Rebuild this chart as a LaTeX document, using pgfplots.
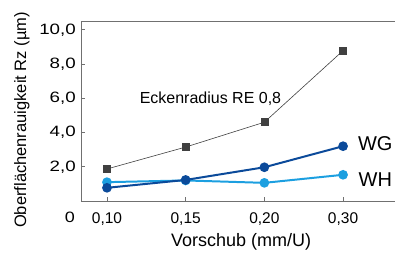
\documentclass[border=0pt]{standalone}
\usepackage{pgfplots}
\pgfplotsset{compat=1.18}
\usepackage{fontspec}
\setmainfont{Liberation Sans}
\definecolor{sq}{HTML}{404040}
\definecolor{dblue}{HTML}{0B4A9A}
\definecolor{lblue}{HTML}{1C9FE0}
\definecolor{axgray}{HTML}{707070}
\begin{document}
\begin{tikzpicture}
\begin{axis}[
  at={(0,0)}, anchor=south west,
  width=314bp, height=180bp, scale only axis,
  xmin=-0.33, xmax=3.66, ymin=0, ymax=10.51,
  axis lines*=left,
  axis line style={-, axgray, line width=1pt},
  clip=false,
  tick align=inside,
  major tick length=4bp,
  tick style={axgray, line width=0.8pt},
  xtick={0,1,2,3},
  xticklabels={{0,10},{0,15},{0,20},{0,30}},
  ytick={2,4,6,8,10},
  /pgf/number format/assume math mode=true,
  yticklabel style={/pgf/number format/.cd, fixed, fixed zerofill, precision=1, use comma,
    /tikz/.cd, font=\fontsize{15bp}{18bp}\selectfont, xscale=1.25, anchor=east, inner sep=0pt, xshift=-4bp},
  xticklabel style={font=\fontsize{15.5bp}{18bp}\selectfont, anchor=base, inner sep=0pt, yshift=-22bp},
  xlabel={Vorschub (mm/U)},
  xlabel style={at={(axis description cs:0.51,0)}, anchor=base, inner sep=0pt, yshift=-45bp, font=\fontsize{18bp}{21bp}\selectfont},
  ylabel={Oberflächenrauigkeit Rz (µm)},
  ylabel style={at={(axis description cs:-0.188,0.45)}, anchor=center, inner sep=0pt, font=\fontsize{16.5bp}{20bp}\selectfont},
]
\addplot[sq, line width=0.6pt, mark=square*, mark size=3.5bp, mark options={solid, fill=sq, draw=sq}]
  coordinates {(0,1.87) (1,3.15) (2,4.6) (3,8.78)};
\addplot[lblue, line width=2pt, mark=*, mark size=3.8bp, mark options={solid, fill=lblue, draw=lblue}]
  coordinates {(0,1.1) (1,1.2) (2,1.06) (3,1.53)};
\addplot[dblue, line width=2pt, mark=*, mark size=3.8bp, mark options={solid, fill=dblue, draw=dblue}]
  coordinates {(0,0.77) (1,1.23) (2,1.97) (3,3.2)};
\draw[axgray, line width=1pt] (rel axis cs:0,1) -- (rel axis cs:1,1);
\node[anchor=base, inner sep=0pt, font=\fontsize{16bp}{19bp}\selectfont] at (axis cs:1.315,5.72) {Eckenradius RE 0,8};
\node[anchor=base, inner sep=0pt, font=\fontsize{20bp}{24bp}\selectfont] at (axis cs:3.41,2.92) {WG};
\node[anchor=base, inner sep=0pt, font=\fontsize{20bp}{24bp}\selectfont] at (axis cs:3.41,0.85) {WH};
\end{axis}
\node[anchor=base, inner sep=0pt, font=\fontsize{15bp}{18bp}\selectfont, xscale=1.2] at (-11bp,-21.7bp) {0};
\pgfresetboundingbox
\useasboundingbox (-81bp,-52bp) rectangle (314bp,201bp);
\end{tikzpicture}
\end{document}
